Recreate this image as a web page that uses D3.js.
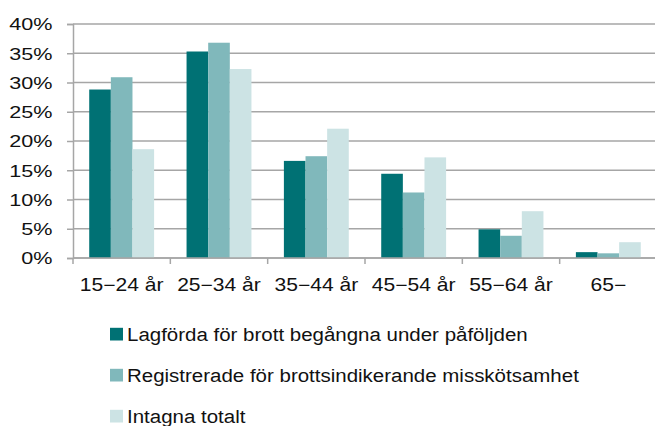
<!DOCTYPE html>
<html><head><meta charset="utf-8">
<script src="https://cdn.jsdelivr.net/npm/d3@7"></script>
<style>body{margin:0;background:#fff}svg{display:block}text{font-family:"Liberation Sans",Arial,sans-serif;fill:#111}</style>
</head><body><svg id="c" width="655" height="426"></svg>
<script>
const categories = ["15−24 år","25−34 år","35−44 år","45−54 år","55−64 år","65−"];
const seriesNames = ["Lagförda för brott begångna under påföljden","Registrerade för brottsindikerande misskötsamhet","Intagna totalt"];
const lagforda = [28.8, 35.3, 16.6, 14.4, 4.9, 1.0];
const registrerade = [30.9, 36.8, 17.4, 11.2, 3.8, 0.8];
const intagna = [18.6, 32.3, 22.1, 17.2, 8.0, 2.7];
const yTicks = [0,5,10,15,20,25,30,35,40];
const colors = ["#007174","#80b8bb","#cce3e4"];

const series = [lagforda, registrerade, intagna];
const svg = d3.select("#c");
const L = 73, R = 657, T = 24, B = 258;
const x0 = d3.scaleBand().domain(categories).range([L,R]).paddingInner(1/3).paddingOuter(1/6);
const x1 = d3.scaleBand().domain([0,1,2]).range([0,x0.bandwidth()]);
const y = d3.scaleLinear().domain([0,40]).range([B,T]);
const grid = "#a6a6a6";

// gridlines
svg.append("g").selectAll("line").data(yTicks).join("line")
  .attr("x1",L).attr("x2",R).attr("y1",d=>y(d)).attr("y2",d=>y(d))
  .attr("stroke",grid).attr("stroke-width",1.5);

// y axis
const ya = svg.append("g").attr("transform",`translate(${L},0)`)
  .call(d3.axisLeft(y).tickValues(yTicks).tickSize(6).tickFormat(d=>d+"%"));
ya.select(".domain").attr("stroke",grid).attr("stroke-width",1.5);
ya.selectAll(".tick line").attr("stroke",grid).attr("stroke-width",1.5);
ya.selectAll(".tick text").attr("x",0).attr("dy","0.35em").attr("font-size",17)
  .attr("text-anchor","end").attr("transform","translate(-20.5,0) scale(1.27,1)");

// bars
const groups = svg.append("g").selectAll("g").data(categories).join("g")
  .attr("transform",d=>`translate(${x0(d)},0)`);
groups.selectAll("rect").data((d,i)=>series.map((s,k)=>({k,v:s[i]}))).join("rect")
  .attr("x",d=>x1(d.k)).attr("width",x1.bandwidth())
  .attr("y",d=>y(d.v)).attr("height",d=>B-y(d.v)).attr("fill",d=>colors[d.k]);

// x axis
const step = x0.step();
const bounds = d3.range(categories.length).map(i=>L+i*step);
svg.append("line").attr("x1",L).attr("x2",R).attr("y1",B).attr("y2",B).attr("stroke",grid).attr("stroke-width",1.5);
svg.append("g").selectAll("line").data(bounds).join("line")
  .attr("x1",d=>d).attr("x2",d=>d).attr("y1",B).attr("y2",B+6).attr("stroke",grid).attr("stroke-width",1.5);
svg.append("g").selectAll("text").data(categories).join("text")
  .attr("transform",d=>`translate(${x0(d)+x0.bandwidth()/2},291) scale(1.19,1)`)
  .attr("text-anchor","middle").attr("font-size",17.7).text(d=>d);

// legend
const leg = svg.append("g").selectAll("g").data(seriesNames).join("g")
  .attr("transform",(d,i)=>`translate(110,${340.5+i*41})`);
leg.append("rect").attr("x",0).attr("y",-12.7).attr("width",13).attr("height",12.7).attr("fill",(d,i)=>colors[i]);
leg.append("text").attr("transform","translate(17,0) scale(1.078,1)").attr("font-size",19).text(d=>d);
</script></body></html>
